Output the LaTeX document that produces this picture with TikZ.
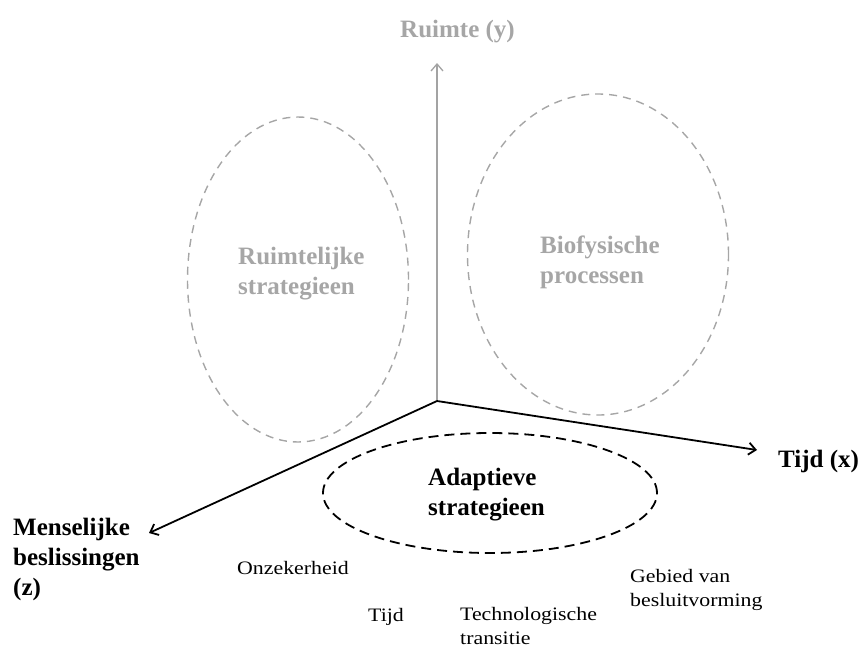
\documentclass[tikz,border=0pt]{standalone}
\usepackage{fontspec}
\setmainfont{Liberation Serif}
\newfontfamily\labfont[FakeStretch=1.15]{Liberation Serif}
\usetikzlibrary{shapes.geometric,arrows.meta}
\definecolor{softgray}{HTML}{A6A6A6}
\definecolor{axisgray}{HTML}{A3A3A3}
\tikzset{
  % multi-line labels: the base anchor sits on the last line
  axislbl/.style={inner sep=0, anchor=base west, align=left,
    font=\bfseries\fontsize{25}{30}\selectfont},
  catlbl/.style={inner sep=0, anchor=base west, align=left,
    font=\labfont\fontsize{19}{24}\selectfont},
  zone/.style={ellipse, draw=softgray, dash pattern=on 8pt off 6pt,
    line width=1.4pt, inner sep=0},
  focuszone/.style={ellipse, draw=black, dash pattern=on 10pt off 6pt,
    line width=1.8pt, inner sep=0},
  axisline/.style={line width=1.8pt, -{Straight Barb[length=7pt,width=12pt]}},
}
\begin{document}
\begin{tikzpicture}[x=1pt,y=-1pt]
  \useasboundingbox (0,0) rectangle (862,649);

  % dashed zones
  \node[zone, minimum width=221pt, minimum height=325pt] (ruimzone) at (298,279.5) {};
  \node[zone, minimum width=261pt, minimum height=321pt] (biozone) at (598,254.5) {};
  \node[focuszone, minimum width=334pt, minimum height=120pt] (adaptzone) at (490,493) {};

  % axes
  \coordinate (O) at (437,401);
  \coordinate (ytip) at (437,63);
  \coordinate (xtip) at (757,450);
  \coordinate (ztip) at (149,533);
  \draw[axisline, axisgray, line width=1.3pt] (O) -- (ytip);
  \draw[axisline] (O) -- (xtip);
  \draw[axisline] (O) -- (ztip);

  % axis labels
  \node[axislbl, text=softgray] (ylbl) at (400,37) {Ruimte (y)};
  \node[axislbl] (xlbl) at (778,467) {Tijd (x)};
  \node[axislbl] (zlbl) at (13,595) {Menselijke\\beslissingen\\(z)};

  % zone labels
  \node[axislbl, text=softgray] (ruimlbl) at (238,294) {Ruimtelijke\\strategieen};
  \node[axislbl, text=softgray] (biolbl) at (540,283) {Biofysische\\processen};
  \node[axislbl] (adaptlbl) at (428,515) {Adaptieve\\strategieen};

  % categories below the plane
  \node[catlbl] (onz) at (237,574) {Onzekerheid};
  \node[catlbl] (tijd) at (368,621) {Tijd};
  \node[catlbl] (tech) at (460,644) {Technologische\\transitie};
  \node[catlbl] (gebied) at (630,606) {Gebied van\\besluitvorming};
\end{tikzpicture}
\end{document}
